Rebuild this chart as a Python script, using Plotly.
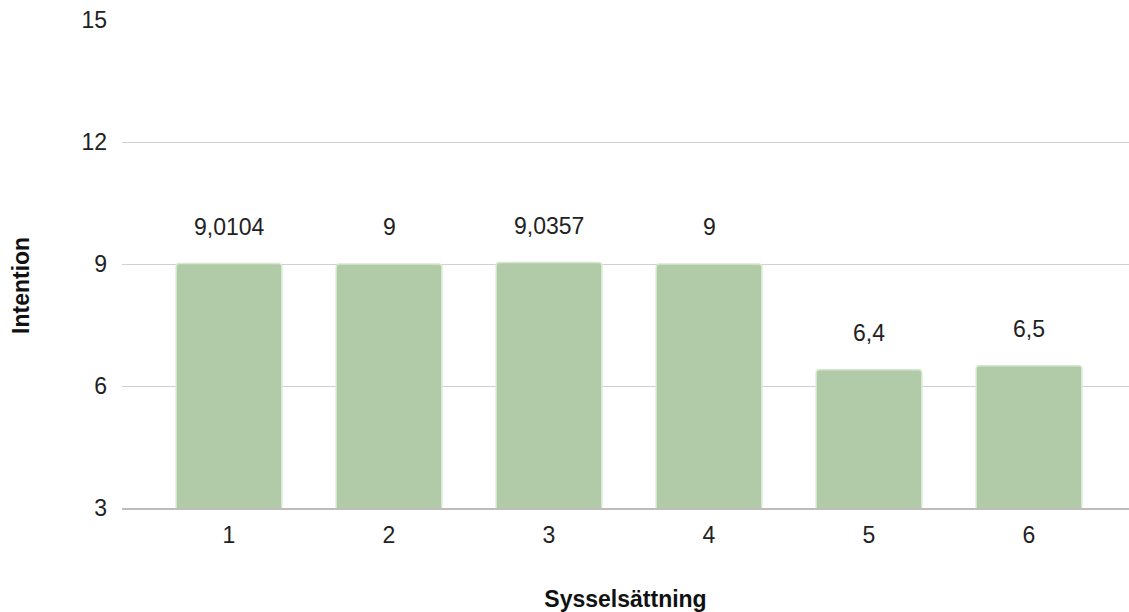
import plotly.graph_objects as go

categories = ["1", "2", "3", "4", "5", "6"]
intention = [9.0104, 9, 9.0357, 9, 6.4, 6.5]
value_labels = ["9,0104", "9", "9,0357", "9", "6,4", "6,5"]
y_ticks = [3, 6, 9, 12, 15]

x_pos = list(range(1, len(categories) + 1))

FONT = "Arial, 'Liberation Sans', sans-serif"

fig = go.Figure()
fig.add_trace(go.Bar(
    x=x_pos,
    y=intention,
    base=0,
    width=0.66,
    marker=dict(color="#b1cba8", line=dict(color="#d6e8cf", width=1.5), cornerradius=3),
    hoverinfo="skip",
))

# value labels above each bar
for xv, yv, lab in zip(x_pos, intention, value_labels):
    fig.add_annotation(x=xv, y=yv, text=lab, showarrow=False,
                       yanchor="bottom", yshift=22,
                       font=dict(family=FONT, size=23, color="#222222"))

# vertical axis title, placed slightly below the plot's mid-height
fig.add_annotation(x=0, y=0.455, xref="paper", yref="paper",
                   xanchor="center", yanchor="middle", xshift=-101,
                   text="<b>Intention</b>", textangle=-90, showarrow=False,
                   font=dict(family=FONT, size=23, color="#111111"))

fig.update_layout(
    width=1129, height=612,
    margin=dict(l=122, r=0, t=20, b=104),
    plot_bgcolor="white", paper_bgcolor="white",
    showlegend=False,
    font=dict(family=FONT, size=23, color="#222222"),
)
fig.update_xaxes(
    range=[1 - 107 / 160, 6 + 100 / 160],
    tickvals=x_pos, ticktext=categories,
    tickfont=dict(size=23),
    showgrid=False, zeroline=False,
    showline=True, linecolor="#bdbdbd", linewidth=1.5,
    ticks="", ticklabelstandoff=6,
    title=dict(text="<b>Sysselsättning</b>", standoff=44,
               font=dict(size=23, color="#111111")),
)
fig.update_yaxes(
    range=[3, 15],
    tickvals=y_ticks,
    tickfont=dict(size=23),
    showgrid=True, gridcolor="#d0d0d0", gridwidth=1.2,
    zeroline=False, ticks="", ticklabelstandoff=14,
)

fig.write_html("out.html")
